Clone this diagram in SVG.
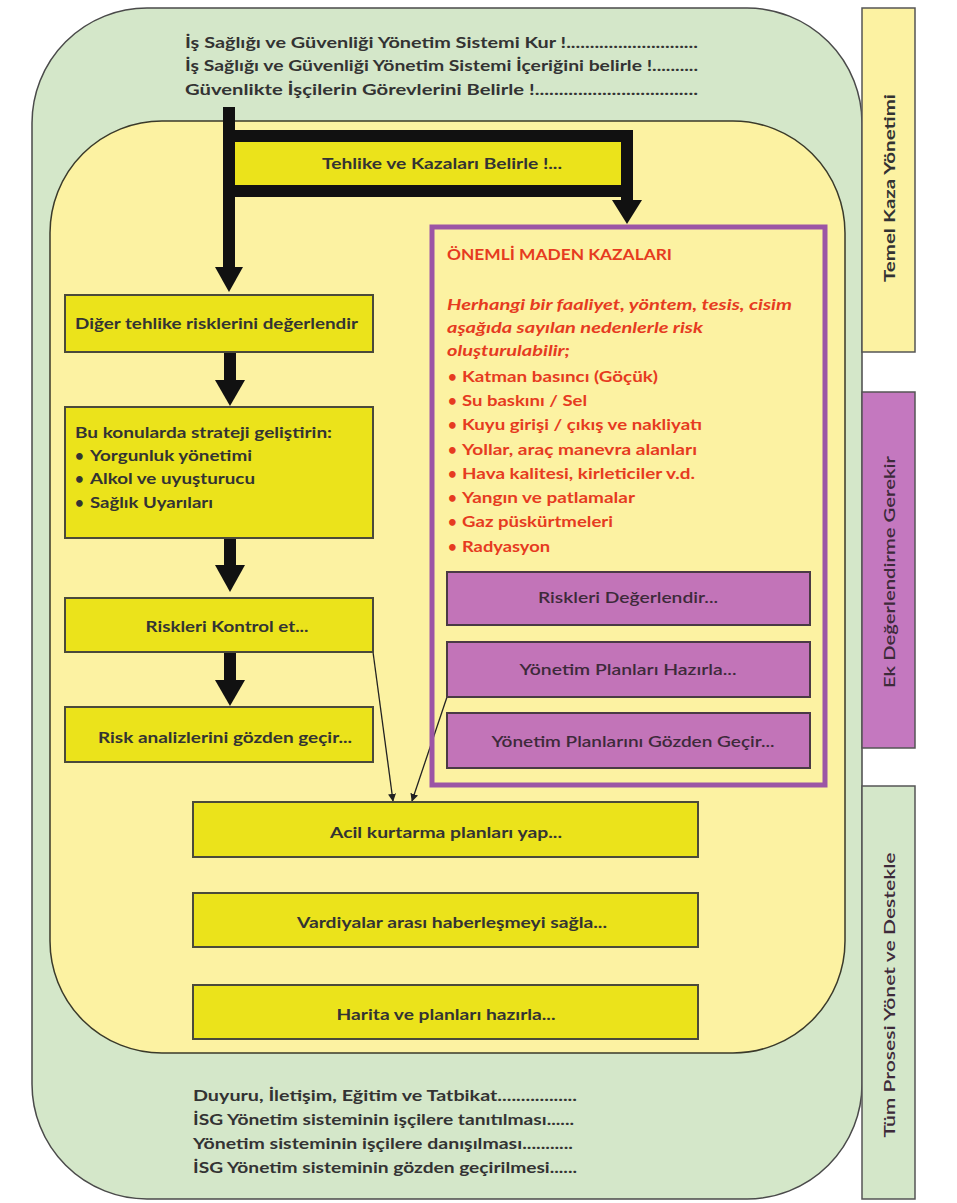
<svg xmlns="http://www.w3.org/2000/svg" width="957" height="1203" viewBox="0 0 957 1203">
<defs>
<style>
.t{font-family:Lato,"Liberation Sans",sans-serif;font-weight:bold;fill:#333;font-size:15px}
.r{font-family:Lato,"Liberation Sans",sans-serif;font-weight:bold;fill:#e63b1f;font-size:15px}
.ri{font-family:Lato,"Liberation Sans",sans-serif;font-weight:bold;font-style:italic;fill:#e63b1f;font-size:15px}
.p{font-family:Lato,"Liberation Sans",sans-serif;font-weight:600;fill:#3d2a3a;font-size:15px}
.ybox{fill:#ebe31b;stroke:#4a4a3a;stroke-width:2}
.pbox{fill:#c274b8;stroke:#4a3a44;stroke-width:2}
.thick{fill:#111}
.thin{stroke:#222;stroke-width:1.3;fill:none}
</style>
<marker id="ah" viewBox="0 0 10 10" refX="9" refY="5" markerWidth="8" markerHeight="8" markerUnits="userSpaceOnUse" orient="auto"><path d="M0,0 L10,5 L0,10 z" fill="#222"/></marker>
</defs>

<g id="outer">
<rect x="32" y="8" width="830" height="1191" rx="115" ry="115" fill="#d4e7c9" stroke="#4a4a4a" stroke-width="1.5"/>
<text class="t" x="185" y="48" textLength="513" lengthAdjust="spacingAndGlyphs">İş Sağlığı ve Güvenliği Yönetim Sistemi Kur !............................</text>
<text class="t" x="185" y="71" textLength="513" lengthAdjust="spacingAndGlyphs">İş Sağlığı ve Güvenliği Yönetim Sistemi İçeriğini belirle !..........</text>
<text class="t" x="185" y="95" textLength="513" lengthAdjust="spacingAndGlyphs">Güvenlikte İşçilerin Görevlerini Belirle !..................................</text>
<text class="t" x="193" y="1101" textLength="384" lengthAdjust="spacingAndGlyphs">Duyuru, İletişim, Eğitim ve Tatbikat.................</text>
<text class="t" x="193" y="1125" textLength="381" lengthAdjust="spacingAndGlyphs">İSG Yönetim sisteminin işçilere tanıtılması......</text>
<text class="t" x="193" y="1149" textLength="380" lengthAdjust="spacingAndGlyphs">Yönetim sisteminin işçilere danışılması...........</text>
<text class="t" x="193" y="1173" textLength="384" lengthAdjust="spacingAndGlyphs">İSG Yönetim sisteminin gözden geçirilmesi......</text>
</g>

<g id="inner">
<rect x="50" y="121" width="795" height="932" rx="112" ry="112" fill="#fcf2a2" stroke="#3a3a2a" stroke-width="1.5"/>
</g>

<g id="bar-temel">
<rect x="862" y="8" width="53" height="344" fill="#fcf2a2" stroke="#555" stroke-width="1.5"/>
<text class="t" transform="translate(895,188) rotate(-90)" text-anchor="middle" textLength="188" lengthAdjust="spacingAndGlyphs">Temel Kaza Yönetimi</text>
</g>
<g id="bar-ek">
<rect x="862" y="392" width="53" height="356" fill="#c478bf" stroke="#555" stroke-width="1.5"/>
<text class="p" transform="translate(895,572) rotate(-90)" text-anchor="middle" textLength="232" lengthAdjust="spacingAndGlyphs">Ek Değerlendirme Gerekir</text>
</g>
<g id="bar-tum">
<rect x="862" y="786" width="53" height="413" fill="#d4e7c9" stroke="#555" stroke-width="1.5"/>
<text class="p" transform="translate(895,995) rotate(-90)" text-anchor="middle" textLength="285" lengthAdjust="spacingAndGlyphs">Tüm Prosesi Yönet ve Destekle</text>
</g>

<g id="connectors">
<rect class="thick" x="223" y="107" width="12" height="162"/>
<polygon class="thick" points="215,267 243,267 229,292"/>
<rect class="thick" x="223" y="130" width="410" height="12"/>
<rect class="thick" x="229" y="185" width="404" height="12"/>
<rect class="thick" x="621" y="130" width="12" height="72"/>
<polygon class="thick" points="612,200 642,200 627,224"/>
<rect class="thick" x="224" y="352" width="12" height="29"/>
<polygon class="thick" points="215,380 245,380 230,406"/>
<rect class="thick" x="224" y="538" width="12" height="28"/>
<polygon class="thick" points="215,565 245,565 230,592"/>
<rect class="thick" x="224" y="652" width="12" height="29"/>
<polygon class="thick" points="215,680 245,680 230,706"/>
<line class="thin" x1="373" y1="652" x2="393" y2="801" marker-end="url(#ah)"/>
<line class="thin" x1="447" y1="697" x2="412" y2="801" marker-end="url(#ah)"/>
</g>

<g id="tehlike">
<rect x="235" y="142" width="386" height="43" fill="#ebe31b"/>
<text class="t" x="442" y="169" text-anchor="middle" textLength="240" lengthAdjust="spacingAndGlyphs">Tehlike ve Kazaları Belirle !...</text>
</g>

<g id="diger">
<rect class="ybox" x="65" y="295" width="308" height="57"/>
<text class="t" x="75" y="329" textLength="283" lengthAdjust="spacingAndGlyphs">Diğer tehlike risklerini değerlendir</text>
</g>

<g id="strateji">
<rect class="ybox" x="65" y="407" width="308" height="131"/>
<text class="t" x="75" y="438" textLength="257" lengthAdjust="spacingAndGlyphs">Bu konularda strateji geliştirin:</text>
<text class="t" x="75" y="461">•</text><text class="t" x="90" y="461" textLength="162" lengthAdjust="spacingAndGlyphs">Yorgunluk yönetimi</text>
<text class="t" x="75" y="484">•</text><text class="t" x="90" y="484" textLength="165" lengthAdjust="spacingAndGlyphs">Alkol ve uyuşturucu</text>
<text class="t" x="75" y="508">•</text><text class="t" x="90" y="508" textLength="123" lengthAdjust="spacingAndGlyphs">Sağlık Uyarıları</text>
</g>

<g id="kontrol">
<rect class="ybox" x="65" y="598" width="308" height="54"/>
<text class="t" x="227" y="632" text-anchor="middle" textLength="163" lengthAdjust="spacingAndGlyphs">Riskleri Kontrol et...</text>
</g>

<g id="analiz">
<rect class="ybox" x="65" y="707" width="308" height="55"/>
<text class="t" x="225" y="743" text-anchor="middle" textLength="254" lengthAdjust="spacingAndGlyphs">Risk analizlerini gözden geçir...</text>
</g>

<g id="maden">
<rect x="432" y="227" width="393" height="558" fill="none" stroke="#9c55a5" stroke-width="5"/>
<text class="r" x="447" y="260" textLength="225" lengthAdjust="spacingAndGlyphs">ÖNEMLİ MADEN KAZALARI</text>
<text class="ri" x="447" y="310" textLength="345" lengthAdjust="spacingAndGlyphs">Herhangi bir faaliyet, yöntem, tesis, cisim</text>
<text class="ri" x="447" y="333" textLength="256" lengthAdjust="spacingAndGlyphs">aşağıda sayılan nedenlerle risk</text>
<text class="ri" x="447" y="356" textLength="123" lengthAdjust="spacingAndGlyphs">oluşturulabilir;</text>
<text class="r" x="448" y="382">•</text><text class="r" x="462" y="382" textLength="196" lengthAdjust="spacingAndGlyphs">Katman basıncı (Göçük)</text>
<text class="r" x="448" y="406">•</text><text class="r" x="462" y="406" textLength="125" lengthAdjust="spacingAndGlyphs">Su baskını / Sel</text>
<text class="r" x="448" y="430">•</text><text class="r" x="462" y="430" textLength="240" lengthAdjust="spacingAndGlyphs">Kuyu girişi / çıkış ve nakliyatı</text>
<text class="r" x="448" y="455">•</text><text class="r" x="462" y="455" textLength="235" lengthAdjust="spacingAndGlyphs">Yollar, araç manevra alanları</text>
<text class="r" x="448" y="479">•</text><text class="r" x="462" y="479" textLength="233" lengthAdjust="spacingAndGlyphs">Hava kalitesi, kirleticiler v.d.</text>
<text class="r" x="448" y="503">•</text><text class="r" x="462" y="503" textLength="173" lengthAdjust="spacingAndGlyphs">Yangın ve patlamalar</text>
<text class="r" x="448" y="527">•</text><text class="r" x="462" y="527" textLength="151" lengthAdjust="spacingAndGlyphs">Gaz püskürtmeleri</text>
<text class="r" x="448" y="552">•</text><text class="r" x="462" y="552" textLength="88" lengthAdjust="spacingAndGlyphs">Radyasyon</text>
</g>

<g id="degerlendir">
<rect class="pbox" x="447" y="572" width="363" height="53"/>
<text class="p" x="628" y="603" text-anchor="middle" textLength="180" lengthAdjust="spacingAndGlyphs">Riskleri Değerlendir...</text>
</g>
<g id="hazirla">
<rect class="pbox" x="447" y="642" width="363" height="55"/>
<text class="p" x="628" y="675" text-anchor="middle" textLength="217" lengthAdjust="spacingAndGlyphs">Yönetim Planları Hazırla...</text>
</g>
<g id="gecir">
<rect class="pbox" x="447" y="713" width="363" height="55"/>
<text class="p" x="633" y="747" text-anchor="middle" textLength="283" lengthAdjust="spacingAndGlyphs">Yönetim Planlarını Gözden Geçir...</text>
</g>

<g id="acil">
<rect class="ybox" x="193" y="802" width="505" height="55"/>
<text class="t" x="446" y="838" text-anchor="middle" textLength="232" lengthAdjust="spacingAndGlyphs">Acil kurtarma planları yap...</text>
</g>
<g id="vardiya">
<rect class="ybox" x="193" y="893" width="505" height="54"/>
<text class="t" x="452" y="928" text-anchor="middle" textLength="310" lengthAdjust="spacingAndGlyphs">Vardiyalar arası haberleşmeyi sağla...</text>
</g>
<g id="harita">
<rect class="ybox" x="193" y="985" width="505" height="54"/>
<text class="t" x="446" y="1020" text-anchor="middle" textLength="219" lengthAdjust="spacingAndGlyphs">Harita ve planları hazırla...</text>
</g>
</svg>
